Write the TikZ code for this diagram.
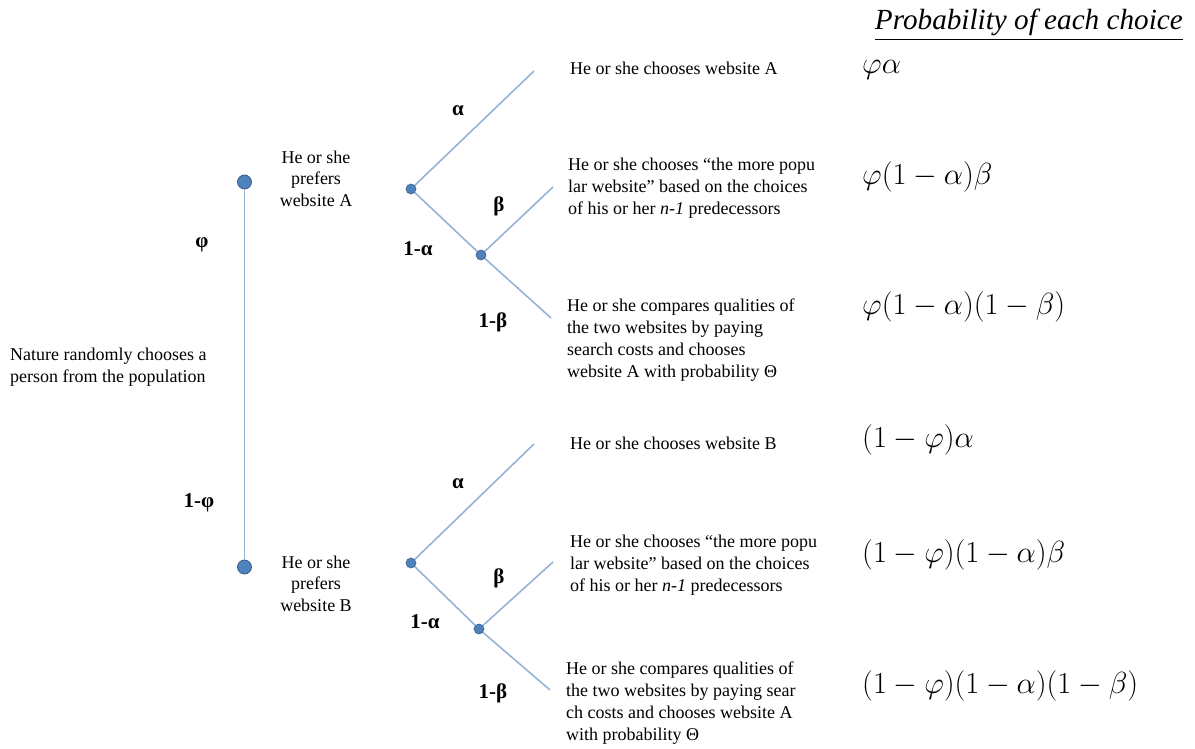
\RequirePackage{fix-cm}
\documentclass[tikz,border=0pt]{standalone}
\usepackage{fontspec}
\setmainfont{Liberation Serif}
\usepackage{amsmath}
\definecolor{branch}{RGB}{149,179,215}
\definecolor{dotfill}{RGB}{79,129,189}
\definecolor{dotline}{RGB}{56,93,138}
\begin{document}
\begin{tikzpicture}[x=1pt,y=-1pt,
  branchline/.style={draw=branch, line width=1.6pt},
  bigdot/.style={circle, fill=dotfill, draw=dotline, line width=0.8pt, minimum size=14pt, inner sep=0},
  smalldot/.style={circle, fill=dotfill, draw=dotline, line width=0.6pt, minimum size=10pt, inner sep=0},
  txt/.style={font=\fontsize{18}{22}\selectfont, align=left, anchor=north west, inner sep=0},
  ctxt/.style={font=\fontsize{18}{21.5}\selectfont, align=center, anchor=north, inner sep=0},
  lbl/.style={font=\fontsize{21}{24}\selectfont\bfseries, inner sep=0},
  prob/.style={font=\fontsize{30.5}{34}\selectfont, anchor=west, inner sep=0}]
\useasboundingbox (0,0) rectangle (1195,749);

% decision nodes
\node[bigdot] (rA) at (244.5,182) {};
\node[bigdot] (rB) at (244.5,567) {};
\node[smalldot] (a1) at (411,189) {};
\node[smalldot] (a2) at (481,255) {};
\node[smalldot] (b1) at (411,563) {};
\node[smalldot] (b2) at (479,629) {};
\coordinate (la1) at (534,71);
\coordinate (la2) at (553,187);
\coordinate (la3) at (551,318);
\coordinate (lb1) at (534,444);
\coordinate (lb2) at (553,562);
\coordinate (lb3) at (550,690);

% branches
\draw[branchline] (rA) -- (rB);
\draw[branchline] (a1) -- (la1);
\draw[branchline] (a1) -- (a2);
\draw[branchline] (a2) -- (la2);
\draw[branchline] (a2) -- (la3);
\draw[branchline] (b1) -- (lb1);
\draw[branchline] (b1) -- (b2);
\draw[branchline] (b2) -- (lb2);
\draw[branchline] (b2) -- (lb3);

% branch labels
\node[lbl] (lphi) at (202,245) {φ};
\node[lbl] (lnphi) at (199,503) {1-φ};
\node[lbl] (lalA) at (458,111) {α};
\node[lbl] (lnalA) at (418,249) {1-α};
\node[lbl] (lbeA) at (499,206) {β};
\node[lbl] (lnbeA) at (493,322) {1-β};
\node[lbl] (lalB) at (458,484) {α};
\node[lbl] (lnalB) at (425,622) {1-α};
\node[lbl] (lbeB) at (499,578) {β};
\node[lbl] (lnbeB) at (493,693) {1-β};

% texts
\node[txt] (nature) at (10,347.5) {Nature randomly chooses a\\person from the population};
\node[ctxt] (prefA) at (316,150.5) {He or she\\prefers\\website A};
\node[ctxt] (prefB) at (316,555.5) {He or she\\prefers\\website B};

\node[txt, anchor=west] (tA1) at (570,68) {He or she chooses website A};
\node[txt] (tA2) at (568,157.5) {He or she chooses “the more popu\\lar website” based on the choices\\of his or her \textit{n-1} predecessors};
\node[txt] (tA3) at (567,298.5) {He or she compares qualities of\\the two websites by paying\\search costs and chooses\\website A with probability Θ};
\node[txt, anchor=west] (tB1) at (570,443) {He or she chooses website B};
\node[txt] (tB2) at (570,534.5) {He or she chooses “the more popu\\lar website” based on the choices\\of his or her \textit{n-1} predecessors};
\node[txt] (tB3) at (566,661.5) {He or she compares qualities of\\the two websites by paying sear\\ch costs and chooses website A\\with probability Θ};

% probabilities
\node[font=\fontsize{29.2}{33}\selectfont\itshape, anchor=base east, inner sep=0] (head) at (1183,30) {\underline{Probability of each choice}};
\node[prob] (p1) at (862,70) {$\varphi\alpha$};
\node[prob] (p2) at (862,177) {$\varphi(1-\alpha)\beta$};
\node[prob] (p3) at (862,307) {$\varphi(1-\alpha)(1-\beta)$};
\node[prob] (p4) at (862,440) {$(1-\varphi)\alpha$};
\node[prob] (p5) at (862,555) {$(1-\varphi)(1-\alpha)\beta$};
\node[prob] (p6) at (862,686) {$(1-\varphi)(1-\alpha)(1-\beta)$};
\end{tikzpicture}
\end{document}
